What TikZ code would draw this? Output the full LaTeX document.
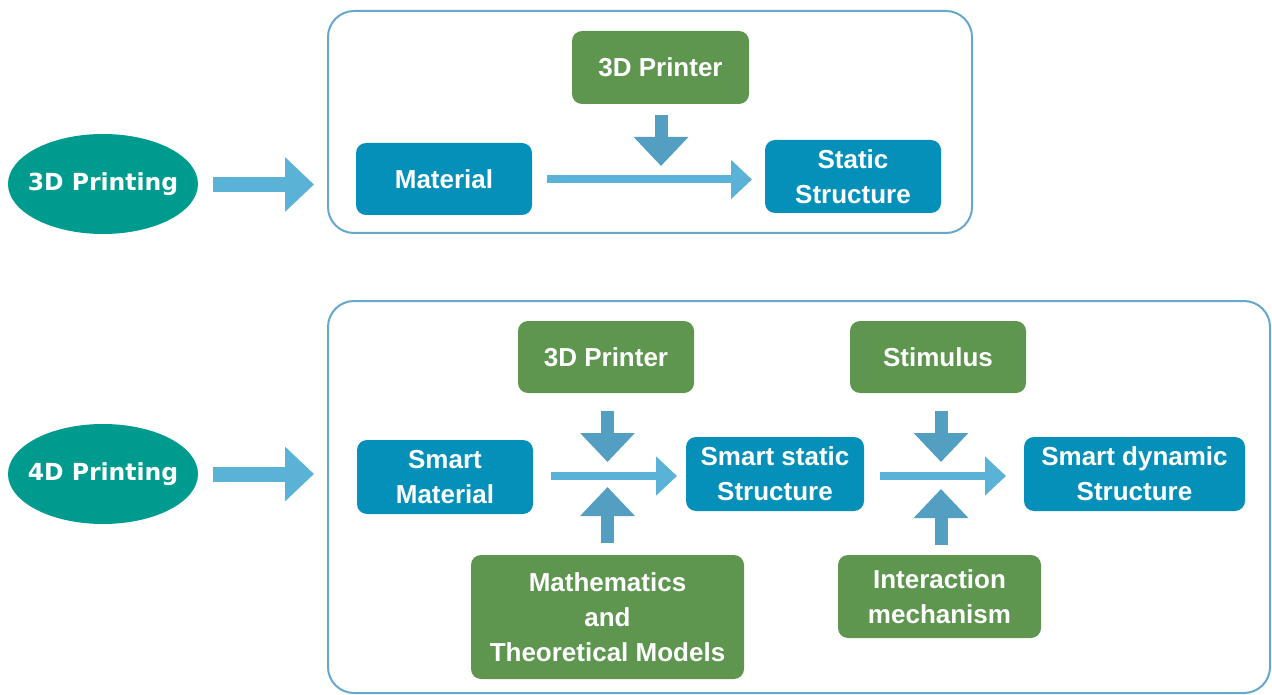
\documentclass[tikz,border=0pt]{standalone}
\usepackage{fontspec}
\setmainfont{Liberation Sans}
\newfontfamily\ellfont{DejaVu Sans}
\usetikzlibrary{shapes.geometric,arrows.meta}
\definecolor{tealc}{HTML}{009B8F}
\definecolor{boxblue}{HTML}{0590BA}
\definecolor{boxgreen}{HTML}{5E9650}
\definecolor{arrlight}{HTML}{5BB2D7}
\definecolor{arrdark}{HTML}{529FC1}
\definecolor{frame}{HTML}{65A8CB}
\tikzset{
  ell/.style={ellipse, fill=tealc, text=white, minimum width=190pt, minimum height=100pt, inner sep=0pt, font=\ellfont\bfseries\fontsize{23.5}{28}\selectfont},
  bbox/.style={rectangle, rounded corners=10pt, fill=boxblue, text=white, align=center, inner sep=0pt, font=\bfseries\fontsize{26}{35}\selectfont},
  gbox/.style={bbox, fill=boxgreen},
  cont/.style={draw=frame, line width=2pt, rounded corners=26pt},
  bigarr/.style={draw=arrlight, line width=15pt, -{Triangle[width=53pt,length=29pt]}},
  thinarr/.style={draw=arrlight, line width=8pt, -{Triangle[width=38pt,length=21pt]}},
  vertarr/.style={draw=arrdark, line width=13pt, -{Triangle[width=53pt,length=29pt]}},
}
\begin{document}
\begin{tikzpicture}[x=1pt,y=-1pt]
\useasboundingbox (0,0) rectangle (1272,695);
% containers
\draw[cont] (328,11) rectangle (972,233);
\draw[cont] (328,301) rectangle (1270,693);
% ellipses
\node[ell] (e3) at (103,184) {\makebox[0pt]{3D Printing}};
\node[ell] (e4) at (103,474) {\makebox[0pt]{4D Printing}};
% top boxes
\node[gbox, minimum width=177pt, minimum height=73pt] (p1) at (660.5,67.5) {3D Printer};
\node[bbox, minimum width=176pt, minimum height=72pt] (mat) at (444,179) {Material};
\node[bbox, minimum width=176pt, minimum height=73pt] (stat) at (853,176.5) {Static\\Structure};
% bottom boxes
\node[gbox, minimum width=176pt, minimum height=72pt] (p2) at (606,357) {3D Printer};
\node[gbox, minimum width=176pt, minimum height=72pt] (stim) at (938,357) {Stimulus};
\node[bbox, minimum width=176pt, minimum height=74pt] (smat) at (445,477) {Smart\\Material};
\node[bbox, minimum width=178pt, minimum height=74pt] (sstat) at (775,474) {Smart static\\Structure};
\node[bbox, minimum width=221pt, minimum height=74pt] (sdyn) at (1134.5,474) {Smart dynamic\\Structure};
\node[gbox, minimum width=273pt, minimum height=124pt] (math) at (607.5,617) {Mathematics\\and\\Theoretical Models};
\node[gbox, minimum width=203pt, minimum height=83pt] (inter) at (939.5,596.5) {Interaction\\mechanism};
% coordinates for connectors
\coordinate (a1s) at (213,184.5); \coordinate (a1e) at (314,184.5);
\coordinate (a2s) at (213,474); \coordinate (a2e) at (314,474);
\coordinate (h1s) at (547,179.5); \coordinate (h1e) at (752,179.5);
\coordinate (d1s) at (661,115); \coordinate (d1e) at (661,166);
\coordinate (h2s) at (551,476); \coordinate (h2e) at (677,476);
\coordinate (d2s) at (607.5,411); \coordinate (d2e) at (607.5,462);
\coordinate (u2s) at (607.5,543); \coordinate (u2e) at (607.5,487);
\coordinate (h3s) at (880,476); \coordinate (h3e) at (1006,476);
\coordinate (d3s) at (941,411); \coordinate (d3e) at (941,462);
\coordinate (u3s) at (941,545); \coordinate (u3e) at (941,489);
% arrows
\draw[bigarr] (a1s) -- (a1e);
\draw[bigarr] (a2s) -- (a2e);
\draw[thinarr] (h1s) -- (h1e);
\draw[vertarr] (d1s) -- (d1e);
\draw[thinarr] (h2s) -- (h2e);
\draw[vertarr] (d2s) -- (d2e);
\draw[vertarr] (u2s) -- (u2e);
\draw[thinarr] (h3s) -- (h3e);
\draw[vertarr] (d3s) -- (d3e);
\draw[vertarr] (u3s) -- (u3e);
\end{tikzpicture}
\end{document}
